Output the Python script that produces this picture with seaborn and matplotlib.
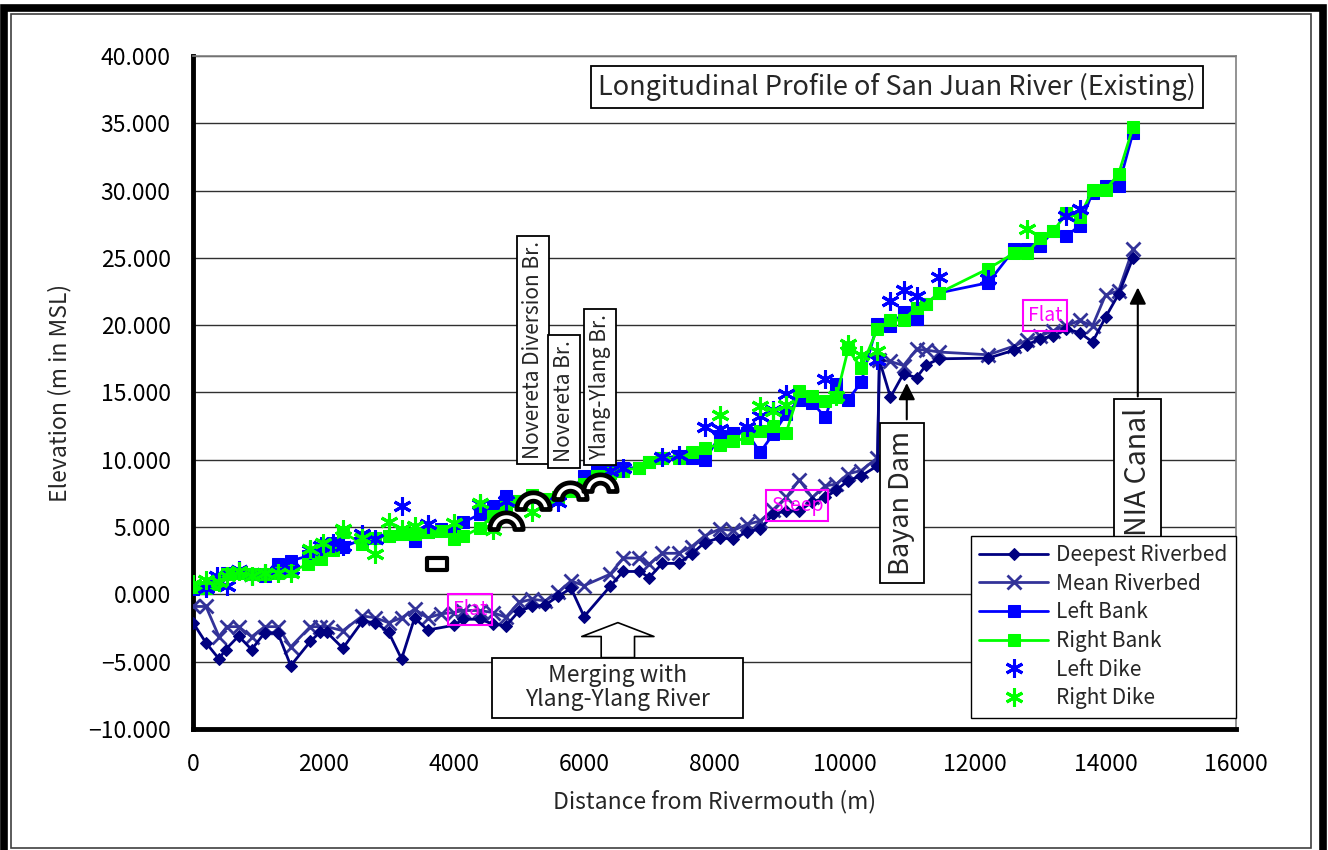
import matplotlib
matplotlib.use("Agg")
import numpy as np
import matplotlib.pyplot as plt
from matplotlib.path import Path
from matplotlib.patches import Rectangle
from matplotlib.ticker import FuncFormatter, MultipleLocator
import seaborn as sns

# ---- data (distance m, elevation m MSL) ----
deep_x = [0, 200, 400, 500, 700, 900, 1100, 1300, 1500, 1800, 1950, 2050, 2300, 2600, 2800,
          3000, 3200, 3400, 3600, 4000, 4150, 4400, 4600, 4800, 5000, 5200, 5400, 5600, 5800,
          6000, 6400, 6600, 6850, 7000, 7200, 7450, 7650, 7850, 8080, 8290, 8500, 8700, 8900,
          9100, 9300, 9500, 9700, 9870, 10050, 10250, 10500, 10530, 10700, 10900, 11100, 11250,
          11450, 12200, 12600, 12800, 13000, 13200, 13400, 13600, 13800, 14000, 14200, 14420]
deep_y = [-2.1, -3.6, -4.8, -4.1, -3.1, -4.1, -2.85, -2.85, -5.3, -3.5, -2.8, -2.8, -4.0, -2.0, -2.1,
          -2.8, -4.8, -1.75, -2.65, -2.3, -1.85, -1.85, -2.2, -2.35, -1.25, -0.9, -0.8, -0.15, 0.45,
          -1.65, 0.6, 1.7, 1.7, 1.25, 2.3, 2.3, 3.0, 3.85, 4.2, 4.1, 4.65, 4.85, 5.95,
          6.2, 6.2, 6.85, 7.2, 7.75, 8.45, 8.8, 9.55, 17.4, 14.65, 16.4, 16.1, 17.05,
          17.5, 17.55, 18.15, 18.55, 19.0, 19.2, 19.7, 19.45, 18.75, 20.6, 22.3, 25.0]

mean_x = [0, 200, 400, 520, 700, 900, 1100, 1300, 1500, 1800, 1950, 2050, 2300, 2600, 2800,
          3000, 3200, 3400, 3600, 3800, 4000, 4150, 4400, 4600, 4800, 5000, 5200, 5400, 5600,
          5800, 6000, 6400, 6600, 6850, 7000, 7200, 7450, 7650, 7850, 8080, 8290, 8500, 8700,
          8900, 9100, 9300, 9500, 9700, 9870, 10050, 10250, 10500, 10530, 10700, 10900, 11100,
          11250, 11450, 12200, 12600, 12800, 13000, 13200, 13400, 13600, 13800, 14000, 14200, 14420]
mean_y = [-0.9, -0.9, -3.15, -2.4, -2.4, -3.15, -2.4, -2.4, -3.9, -2.4, -2.4, -2.4, -2.7, -1.6, -1.75,
          -2.1, -1.75, -1.1, -1.75, -1.45, -1.35, -1.2, -1.2, -1.35, -1.7, -0.6, -0.36, -0.48, 0.15,
          1.0, 0.65, 1.5, 2.7, 2.7, 2.25, 3.05, 3.05, 3.55, 4.35, 4.85, 4.75, 5.2, 5.45,
          6.3, 7.2, 8.5, 7.2, 8.05, 8.2, 8.95, 9.2, 10.15, 17.4, 17.3, 17.0, 18.2,
          18.15, 18.0, 17.8, 18.45, 18.9, 19.2, 19.6, 19.95, 20.35, 19.95, 22.25, 22.55, 25.65]

bank_x = [0, 200, 370, 520, 700, 900, 1100, 1300, 1500, 1770, 1970, 2150, 2300, 2600, 2800,
          3000, 3200, 3400, 3600, 3800, 4000, 4150, 4400, 4600, 4800, 5000, 5200, 5400, 5600,
          5800, 6000, 6200, 6400, 6600, 6850, 7000, 7200, 7450, 7650, 7850, 8080, 8290, 8500,
          8700, 8900, 9100, 9300, 9500, 9700, 9870, 10050, 10250, 10500, 10700, 10900, 11100,
          11250, 11450, 12200, 12600, 12800, 13000, 13200, 13400, 13600, 13800, 14000, 14200, 14420]
left_bank = [0.4, 0.5, 1.0, 1.6, 1.6, 1.5, 1.4, 2.25, 2.5, 2.85, 3.2, 3.85, 3.5, 4.1, 4.2,
             4.35, 4.5, 3.95, 4.6, 4.85, 4.7, 5.35, 5.95, 6.55, 7.3, 6.95, 7.2, 7.0, 7.1,
             7.7, 8.8, 9.2, 9.3, 9.4, 9.4, 9.8, 10.1, 10.3, 10.1, 9.95, 11.75, 11.95, 12.0,
             10.55, 11.9, 13.4, 14.45, 14.25, 13.15, 15.6, 14.45, 15.75, 20.1, 19.95, 20.95, 20.45,
             21.6, 22.4, 23.15, 25.65, 25.65, 25.9, 27.0, 26.6, 27.4, 29.85, 30.3, 30.35, 34.3]
right_bank = [0.55, 0.5, 0.75, 1.5, 1.55, 1.5, 1.5, 1.6, 1.7, 2.25, 2.6, 3.3, 4.6, 3.75, 4.2,
              4.35, 4.5, 4.5, 4.6, 4.7, 4.1, 4.3, 4.95, 5.85, 6.5, 6.9, 7.4, 7.1, 7.2,
              7.7, 8.2, 8.8, 9.0, 9.2, 9.4, 9.8, 10.1, 10.1, 10.55, 10.9, 11.1, 11.4, 11.6,
              12.1, 12.5, 12.0, 15.1, 14.75, 14.4, 14.65, 18.2, 16.85, 19.7, 20.35, 20.4, 21.3,
              21.6, 22.4, 24.2, 25.35, 25.35, 26.5, 27.0, 28.3, 28.0, 30.05, 30.05, 31.25, 34.7]

ldike_x = [200, 370, 520, 700, 900, 1100, 1300, 1500, 1800, 1970, 2150, 2300, 2600, 2800, 3200,
           3600, 4400, 4800, 5600, 6400, 6600, 7200, 7450, 7850, 8080, 8500, 8700, 8900, 9100,
           9700, 10500, 10700, 10900, 11100, 11450, 12200, 13400, 13600]
ldike_y = [0.5, 1.4, 0.6, 1.8, 1.4, 1.6, 1.75, 1.85, 3.3, 3.6, 3.85, 3.6, 4.5, 4.1, 6.55,
           5.2, 6.7, 6.9, 6.85, 9.2, 9.4, 10.2, 10.35, 12.4, 12.3, 12.4, 13.25, 13.7, 14.9,
           16.0, 17.4, 21.8, 22.6, 22.2, 23.6, 23.4, 28.1, 28.65]

rdike_x = [0, 200, 400, 520, 700, 900, 1100, 1300, 1500, 1800, 2000, 2300, 2600, 2800, 3000,
           3200, 3400, 4000, 4400, 4600, 5200, 8080, 8700, 8900, 9100, 9870, 10050, 10250,
           10500, 12800]
rdike_y = [0.75, 1.1, 0.9, 1.4, 1.75, 1.4, 1.6, 1.6, 1.6, 3.35, 3.85, 4.85, 4.2, 3.0, 5.35,
           4.85, 5.1, 5.3, 6.8, 4.75, 6.1, 13.3, 14.0, 13.6, 14.1, 14.75, 18.6, 17.8,
           18.1, 27.15]

# bridge symbols
arch_x = [4795, 5220, 5780, 6240]
arch_y = [4.85, 6.35, 7.05, 7.65]
box_x = [3750]
box_y = [2.25]

C_DEEP = "#000080"
C_MEAN = "#333399"
C_BLUE = "#0000FF"
C_GREEN = "#00FF00"
MAGENTA = "#FF00FF"

sns.set_style("white")
plt.rcParams['font.family'] = ['Noto Sans CJK JP', 'DejaVu Sans']

fig = plt.figure(figsize=(13.28, 8.5), dpi=100)
ax = fig.add_axes([0.1453, 0.1424, 0.7854, 0.7918])

sns.lineplot(x=deep_x, y=deep_y, ax=ax, color=C_DEEP, lw=2, marker='D', markersize=6,
             markeredgecolor=C_DEEP, label='Deepest Riverbed', sort=False, estimator=None, zorder=5)
sns.lineplot(x=mean_x, y=mean_y, ax=ax, color=C_MEAN, lw=2, marker='x', markersize=10,
             markeredgewidth=2, markeredgecolor=C_MEAN, label='Mean Riverbed', sort=False,
             estimator=None, zorder=4)
sns.lineplot(x=bank_x, y=left_bank, ax=ax, color=C_BLUE, lw=2, marker='s', markersize=8,
             markeredgecolor=C_BLUE, label='Left Bank', sort=False, estimator=None, zorder=3)
sns.lineplot(x=bank_x, y=right_bank, ax=ax, color=C_GREEN, lw=2, marker='s', markersize=8,
             markeredgecolor=C_GREEN, label='Right Bank', sort=False, estimator=None, zorder=3.5)
sns.lineplot(x=ldike_x, y=ldike_y, ax=ax, color=C_BLUE, linestyle='none', marker=(6, 2, 0),
             markersize=13, markeredgewidth=2.2, markeredgecolor=C_BLUE, label='Left Dike',
             sort=False, estimator=None, zorder=6)
sns.lineplot(x=rdike_x, y=rdike_y, ax=ax, color=C_GREEN, linestyle='none', marker=(6, 2, 0),
             markersize=13, markeredgewidth=2.2, markeredgecolor=C_GREEN, label='Right Dike',
             sort=False, estimator=None, zorder=6)

# bridge markers
t = np.linspace(0, np.pi, 25)
verts = np.concatenate([np.c_[np.cos(t), np.sin(t)], np.c_[0.5 * np.cos(t[::-1]), 0.5 * np.sin(t[::-1])],
                        [[1, 0]]])
codes = [Path.MOVETO] + [Path.LINETO] * (len(verts) - 2) + [Path.CLOSEPOLY]
arch = Path(verts, codes)
ax.plot(arch_x, arch_y, ls='none', marker=arch, markersize=24, markerfacecolor='white',
        markeredgecolor='black', markeredgewidth=3.4, zorder=7)
rect = Path([(-1, -0.55), (1, -0.55), (1, 0.55), (-1, 0.55), (-1, -0.55)],
            [Path.MOVETO, Path.LINETO, Path.LINETO, Path.LINETO, Path.CLOSEPOLY])
ax.plot(box_x, box_y, ls='none', marker=rect, markersize=15, markerfacecolor='white',
        markeredgecolor='black', markeredgewidth=3, zorder=7)

# axes
ax.set_xlim(0, 16000)
ax.set_ylim(-10, 40)
ax.xaxis.set_major_locator(MultipleLocator(2000))
ax.yaxis.set_major_locator(MultipleLocator(5))
ax.yaxis.set_major_formatter(FuncFormatter(lambda v, p: f"{v:.3f}".replace('-', '\u2212')))
ax.grid(axis='y', color='#303030', lw=1)
ax.grid(axis='x', visible=False)
for s in ['left', 'bottom']:
    ax.spines[s].set_linewidth(3.5)
    ax.spines[s].set_color('black')
for s in ['top', 'right']:
    ax.spines[s].set_linewidth(1.2)
    ax.spines[s].set_color('#808080')
ax.tick_params(axis='x', direction='in', length=9, width=3, labelsize=16.5, pad=17, colors='black')
ax.tick_params(axis='y', direction='inout', length=6, width=3, labelsize=16.5, pad=13, colors='black')
ax.set_xlabel('Distance from Rivermouth (m)', fontsize=16.5, labelpad=10)
ax.set_ylabel('Elevation (m in MSL)', fontsize=16.5, labelpad=12)

box = dict(boxstyle='square,pad=0.3', fc='white', ec='black', lw=1.3)
ax.text(10800, 37.7, 'Longitudinal Profile of San Juan River (Existing)', fontsize=19.5,
        ha='center', va='center', bbox=dict(boxstyle='square,pad=0.25', fc='white', ec='black', lw=1.3),
        zorder=10)

for bx, by, label in [(5215, 10.05, 'Novereta Diversion Br.'), (5690, 9.8, 'Novereta Br.'),
                      (6242, 10.0, 'Ylang-Ylang Br.')]:
    ax.text(bx, by, label, rotation=90, fontsize=15, ha='center', va='bottom',
            bbox=dict(boxstyle='square,pad=0.25', fc='white', ec='black', lw=1.3), zorder=10)

ax.annotate('', xy=(10950, 15.7), xytext=(10950, 13.0),
            arrowprops=dict(arrowstyle='-|>', color='black', lw=1.5, mutation_scale=25,
                            shrinkA=0, shrinkB=0), zorder=10)
ax.text(10875, 1.45, 'Bayan Dam', rotation=90, fontsize=19.5, ha='center', va='bottom', bbox=box, zorder=10)

ax.annotate('', xy=(14494, 22.8), xytext=(14494, 14.7),
            arrowprops=dict(arrowstyle='-|>', color='black', lw=1.5, mutation_scale=25,
                            shrinkA=0, shrinkB=0), zorder=10)
ax.text(14494, 4.35, 'NIA Canal', rotation=90, fontsize=20.5, ha='center', va='bottom', bbox=box, zorder=10)

ax.annotate('', xy=(6518, -2.1), xytext=(6518, -4.7),
            arrowprops=dict(arrowstyle='simple,head_length=0.5,head_width=2.6,tail_width=1.2',
                            fc='white', ec='black', lw=1.2, mutation_scale=20,
                            shrinkA=0, shrinkB=0), zorder=10)
ax.add_patch(Rectangle((4586, -9.18), 3850, 4.47, fc='white', ec='black', lw=1.3, zorder=10))
ax.text(6511, -6.95, 'Merging with\nYlang-Ylang River', fontsize=16.5, ha='center', va='center',
        linespacing=1.05, zorder=11)

pink = dict(boxstyle='square,pad=0.25', fc='none', ec=MAGENTA, lw=1.5)
ax.text(4248, -1.1, 'Flat', color=MAGENTA, fontsize=14, ha='center', va='center', bbox=pink, zorder=11)
ax.text(13067, 20.7, 'Flat', color=MAGENTA, fontsize=14, ha='center', va='center', bbox=pink, zorder=11)
ax.text(9264, 6.58, 'Steep', color=MAGENTA, fontsize=14, ha='center', va='center', bbox=pink, zorder=11)

leg = ax.legend(loc='lower right', bbox_to_anchor=(1.0, 0.017), fontsize=15, frameon=True,
                fancybox=False, framealpha=1, edgecolor='black', handlelength=3.3,
                labelspacing=0.32, borderpad=0.4, handletextpad=0.4, borderaxespad=0)
leg.get_frame().set_linewidth(1.0)
leg.set_zorder(12)

# outer frame
W, H = 1328, 850
fig.patches.append(Rectangle((4 / W, -0.01), 1319 / W, 842 / H + 0.01, transform=fig.transFigure,
                             fill=False, ec='black', lw=5.5))
fig.patches.append(Rectangle((11 / W, 2 / H), 1300 / W, 834 / H, transform=fig.transFigure,
                             fill=False, ec='#404040', lw=1.2))

fig.savefig('out.png', dpi=100)
